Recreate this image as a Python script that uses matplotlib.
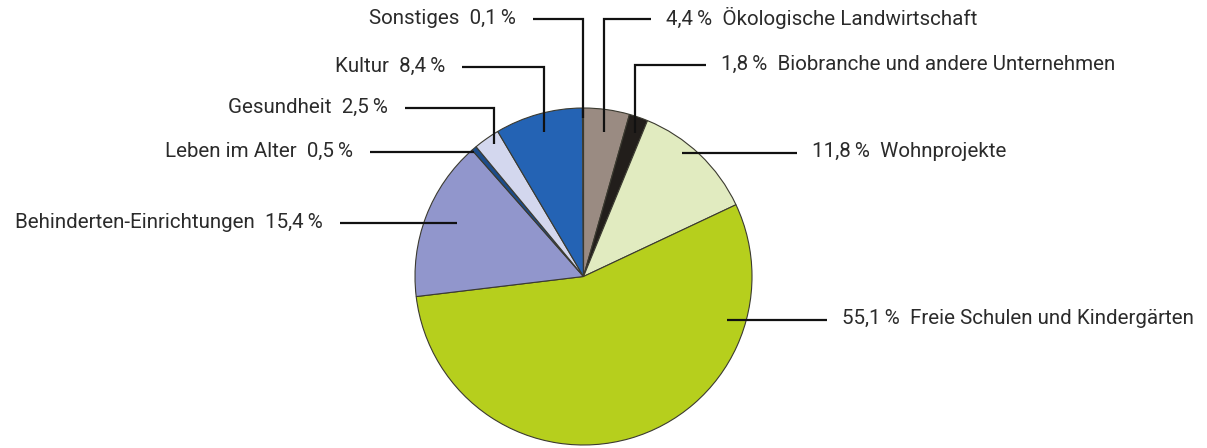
import numpy as np
import matplotlib.pyplot as plt

# slices, clockwise from 12 o'clock
labels = ["Ökologische Landwirtschaft", "Biobranche und andere Unternehmen", "Wohnprojekte",
          "Freie Schulen und Kindergärten", "Behinderten-Einrichtungen", "Leben im Alter",
          "Gesundheit", "Kultur", "Sonstiges"]
shares = [4.4, 1.8, 11.8, 55.1, 15.4, 0.5, 2.5, 8.4, 0.1]
pct_text = ["4,4", "1,8", "11,8", "55,1", "15,4", "0,5", "2,5", "8,4", "0,1"]
colors = ["#9a8b82", "#221e1b", "#e1ebc0", "#b6cf1d", "#9196cc", "#1c4c8a",
          "#d3d7ee", "#2463b4", "#f4f4f4"]

# leader layout: (where in wedge 0..1, radius frac, elbow y px or None, line end x px, side)
leader = [
    (0.5, 0.865, 19, 651, "r"),
    (0.6, 0.905, 65, 706, "r"),
    (0.383, 0.94, None, 797, "r"),
    (0.212, 0.89, None, 827, "r"),
    (0.536, 0.815, None, 340, "l"),
    (0.0, 0.985, None, 370, "l"),
    (0.6, 0.95, 108, 405, "l"),
    (0.5, 0.887, 67, 462, "l"),
    (0.5, 0.94, 19, 533, "l"),
]

W, H = 1207, 448
cx, cy, R = 583.5, H - 276.5, 168.5

plt.rcParams['font.family'] = ['Roboto', 'DejaVu Sans']
fig = plt.figure(figsize=(W / 100, H / 100), dpi=100)
ax = fig.add_axes([0, 0, 1, 1])
wedges, _ = ax.pie(shares, colors=colors, startangle=90, counterclock=False,
                   center=(cx, cy), radius=R,
                   wedgeprops=dict(edgecolor="#3b3a30", linewidth=0.8))
ax.set_xlim(0, W)
ax.set_ylim(0, H)
ax.set_aspect("equal")
ax.axis("off")

for w, lab, pt, (f, rf, ey, ex, side) in zip(wedges, labels, pct_text, leader):
    # clockwise wedge: theta1 is the end, theta2 the start
    ang = np.deg2rad(w.theta2 - f * (w.theta2 - w.theta1))
    x0 = cx + rf * R * np.cos(ang)
    y0 = cy + rf * R * np.sin(ang)
    ty = y0 if ey is None else H - ey
    ax.plot([x0, x0, ex], [y0, ty, ty], color="#111111", lw=1.6,
            solid_capstyle="butt", solid_joinstyle="miter")
    if side == "r":
        ax.text(ex + 15, ty + 1, f"{pt}\u2009%  {lab}", ha="left", va="center",
                fontsize=14.8, color="#2b2b2b")
    else:
        ax.text(ex - 17, ty + 1, f"{lab}  {pt}\u2009%", ha="right", va="center",
                fontsize=14.8, color="#2b2b2b")

fig.savefig("out.png", dpi=100, facecolor="white")
